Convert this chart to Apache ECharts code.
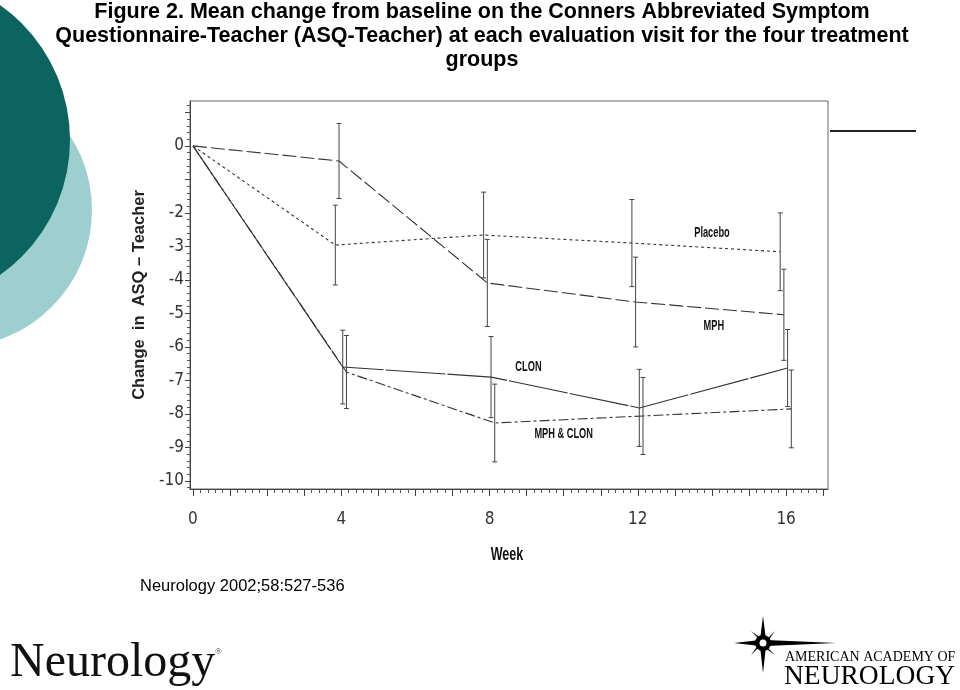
<!DOCTYPE html>
<html><head><meta charset="utf-8">
<script src="https://cdn.jsdelivr.net/npm/echarts@6/dist/echarts.min.js"></script>
<style>html,body{margin:0;padding:0;background:#fff}#c{width:960px;height:690px}</style>
</head><body><div id="c"></div><script>
// ---- data ----
const weeks = [0, 4, 8, 12, 16];
const seriesNames = ['Placebo', 'MPH', 'CLON', 'MPH & CLON'];
const placebo    = [0, -2.96, -2.66, -2.90, -3.16];
const placeboErr = [0,  1.19,  1.28,  1.30,  1.16];
const mph        = [0, -0.45, -4.09, -4.66, -5.04];
const mphErr     = [0,  1.12,  1.30,  1.34,  1.36];
const clon       = [0, -6.60, -6.90, -7.82, -6.63];
const clonErr    = [0,  1.10,  1.21,  1.15,  1.15];
const mphClon    = [0, -6.75, -8.27, -8.06, -7.85];
const mphClonErr = [0,  1.09,  1.16,  1.15,  1.16];
const weekJitter = [-0.16, -0.06, 0.04, 0.14];
const xTickLabels = [0, 4, 8, 12, 16];
const yTickLabels = [0, -2, -3, -4, -5, -6, -7, -8, -9, -10];
const annotText  = ['Placebo', 'MPH', 'CLON', 'MPH & CLON'];
const annotWeek  = [14.0, 14.05, 9.05, 10.0];
const annotValue = [-2.6, -5.37, -6.6, -8.6];

const means = [placebo, mph, clon, mphClon];
const errs = [placeboErr, mphErr, clonErr, mphClonErr];
const dashes = [[3, 3], [14, 4], [60, 2], [10, 3, 3, 3]];

const xMajor = []; for (let i = 0; i <= 17; i++) xMajor.push(i);
const xMinor = []; for (let i = 0; i <= 85; i++) { if (i % 5) xMinor.push(i / 5); }
const yMajor = []; for (let i = -10; i <= 1; i++) yMajor.push(i);
const yMinor = []; for (let i = -51; i <= 6; i++) { if (i % 5) yMinor.push(i / 5); }

const tickFont = "'DejaVu Sans Condensed', 'Liberation Sans Narrow', sans-serif";
const sans = "'Liberation Sans', Arial, sans-serif";
const serif = "'Liberation Serif', 'Times New Roman', serif";
const X_MIN = -0.08, X_MAX = 17.13, Y_MIN = -10.24, Y_MAX = 1.34;

const series = [];
means.forEach((m, k) => {
  series.push({
    type: 'line', name: seriesNames[k], showSymbol: false, animation: false, silent: true,
    data: weeks.map((w, i) => [i === 0 ? w : w + weekJitter[k], m[i]]),
    lineStyle: { color: '#333', width: 1.1, type: dashes[k] }, z: 3
  });
  series.push({
    type: 'custom', name: seriesNames[k] + ' SE', animation: false, silent: true,
    data: weeks.map((w, i) => [w + weekJitter[k], m[i] - errs[k][i], m[i] + errs[k][i]]).slice(1),
    renderItem: function (params, api) {
      const x = api.value(0), lo = api.value(1), hi = api.value(2);
      const p1 = api.coord([x, hi]), p2 = api.coord([x, lo]);
      const c = 2.5, st = { stroke: '#444', lineWidth: 1 };
      return { type: 'group', children: [
        { type: 'line', shape: { x1: p1[0], y1: p1[1], x2: p2[0], y2: p2[1] }, style: st },
        { type: 'line', shape: { x1: p1[0] - c, y1: p1[1], x2: p1[0] + c, y2: p1[1] }, style: st },
        { type: 'line', shape: { x1: p2[0] - c, y1: p2[1], x2: p2[0] + c, y2: p2[1] }, style: st }
      ]};
    }, z: 4
  });
});

const baseGraphic = [
  { type: 'circle', shape: { cx: -45, cy: 210, r: 137 }, style: { fill: '#9dcfd0' }, z: 1 },
  { type: 'circle', shape: { cx: -95, cy: 140, r: 165 }, style: { fill: '#0b6460' }, z: 2 },
  { type: 'text', style: { text: 'Figure 2. Mean change from baseline on the Conners Abbreviated Symptom', x: 482, y: 12, textAlign: 'center', textVerticalAlign: 'middle', font: "bold 21.5px " + sans, fill: '#000' } },
  { type: 'text', style: { text: 'Questionnaire-Teacher (ASQ-Teacher) at each evaluation visit for the four treatment', x: 482, y: 36, textAlign: 'center', textVerticalAlign: 'middle', font: "bold 21.5px " + sans, fill: '#000' } },
  { type: 'text', style: { text: 'groups', x: 482, y: 60, textAlign: 'center', textVerticalAlign: 'middle', font: "bold 21.5px " + sans, fill: '#000' } },
  { type: 'line', shape: { x1: 830, y1: 131, x2: 916, y2: 131 }, style: { stroke: '#222', lineWidth: 2 } },
  { type: 'text', x: 507, y: 555, scaleX: 0.7, style: { text: 'Week', x: 0, y: 0, textAlign: 'center', textVerticalAlign: 'middle', font: "bold 18px " + sans, fill: '#111' } },
  { type: 'text', style: { text: 'Neurology 2002;58:527-536', x: 140, y: 586, textAlign: 'left', textVerticalAlign: 'middle', font: "16.5px " + sans, fill: '#000' } },
  { type: 'text', style: { text: 'Neurology', x: 10, y: 663, textAlign: 'left', textVerticalAlign: 'middle', font: "48px " + serif, fill: '#111' } },
  { type: 'text', style: { text: '\u00AE', x: 215, y: 652, textAlign: 'left', textVerticalAlign: 'middle', font: "9px " + serif, fill: '#444' } },
  { type: 'polygon', shape: { points: [[763, 616], [766, 640], [836, 643], [766, 646], [763, 673], [760, 646], [734, 643], [760, 640]] }, style: { fill: '#000' } },
  { type: 'polygon', shape: { points: [[751, 631], [765, 641], [775, 631], [765, 645], [775, 655], [761, 645], [751, 655], [761, 641]] }, style: { fill: '#000' } },
  { type: 'circle', shape: { cx: 763, cy: 643, r: 8 }, style: { fill: '#000' } },
  { type: 'circle', shape: { cx: 763, cy: 643, r: 3.5 }, style: { fill: '#fff' } },
  { type: 'text', style: { text: 'AMERICAN ACADEMY OF', x: 785, y: 657, textAlign: 'left', textVerticalAlign: 'middle', font: "14px " + serif, fill: '#000' } },
  { type: 'text', style: { text: 'NEUROLOGY', x: 784, y: 677, textAlign: 'left', textVerticalAlign: 'middle', font: "27.5px " + serif, fill: '#000' } }
];

const chart = echarts.init(document.getElementById('c'), null, { renderer: 'canvas' });
chart.setOption({
  backgroundColor: '#fff',
  animation: false,
  grid: { left: 190, right: 132, top: 101, bottom: 201, containLabel: false, outerBoundsMode: 'none',
          show: true, borderColor: '#666', borderWidth: 1, backgroundColor: 'transparent' },
  xAxis: [{
    type: 'value', min: X_MIN, max: X_MAX, position: 'bottom',
    axisLine: { show: true, onZero: false, lineStyle: { color: '#444', width: 1 } },
    axisTick: { show: true, customValues: xMajor, length: 7, inside: false, lineStyle: { color: '#444' } },
    axisLabel: { customValues: xTickLabels, margin: 22, color: '#333', fontFamily: tickFont, fontSize: 17 },
    splitLine: { show: false }
  }, {
    type: 'value', min: X_MIN, max: X_MAX, position: 'bottom',
    axisLine: { show: false, onZero: false },
    axisTick: { show: true, customValues: xMinor, length: 4, lineStyle: { color: '#555' } },
    axisLabel: { show: false }, splitLine: { show: false }
  }],
  yAxis: [{
    type: 'value', min: Y_MIN, max: Y_MAX, position: 'left',
    axisLine: { show: true, onZero: false, lineStyle: { color: '#444', width: 1 } },
    axisTick: { show: true, customValues: yMajor, length: 5, lineStyle: { color: '#444' } },
    axisLabel: { customValues: yTickLabels, margin: 6, color: '#333', fontFamily: tickFont, fontSize: 17,
                 formatter: v => (v < 0 ? '-' + Math.abs(v) : String(v)) },
    splitLine: { show: false },
    name: 'Change  in  ASQ \u2013 Teacher', nameLocation: 'middle', nameGap: 30, nameRotate: 90,
    nameTextStyle: { fontFamily: sans, fontSize: 16.5, fontWeight: 'bold', color: '#222' }
  }, {
    type: 'value', min: Y_MIN, max: Y_MAX, position: 'left',
    axisLine: { show: false, onZero: false },
    axisTick: { show: true, customValues: yMinor, length: 3, lineStyle: { color: '#555' } },
    axisLabel: { show: false }, splitLine: { show: false }
  }],
  series: series.map(s => Object.assign(s, { xAxisIndex: 0, yAxisIndex: 0 })),
  graphic: baseGraphic
});

// in-plot series labels, positioned through the chart's own scales
const annotGraphic = annotText.map((t, i) => {
  const p = chart.convertToPixel({ gridIndex: 0 }, [annotWeek[i], annotValue[i]]);
  return { type: 'text', x: p[0], y: p[1], scaleX: 0.66, z: 10,
           style: { text: t, x: 0, y: 0, textAlign: 'center', textVerticalAlign: 'middle',
                    font: "bold 14px " + sans, fill: '#111' } };
});
chart.setOption({ graphic: baseGraphic.concat(annotGraphic) });
</script></body></html>
